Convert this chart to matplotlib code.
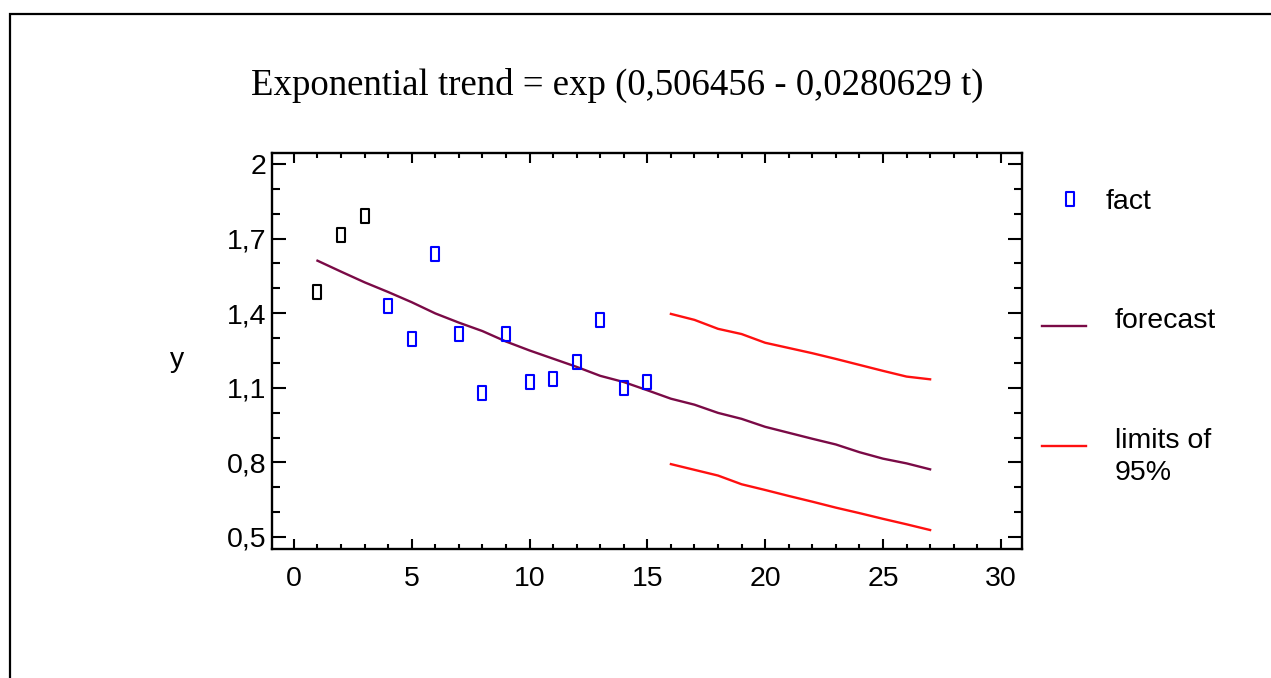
import matplotlib
matplotlib.use("Agg")
import matplotlib.pyplot as plt
from matplotlib.path import Path
from matplotlib.lines import Line2D
from matplotlib.patches import Rectangle
from matplotlib.ticker import MultipleLocator, FuncFormatter

# ---- data ----
t_fact = [1, 2, 3, 4, 5, 6, 7, 8, 9, 10, 11, 12, 13, 14, 15]
y_fact = [1.487, 1.714, 1.792, 1.430, 1.295, 1.637, 1.316, 1.078, 1.316,
          1.122, 1.134, 1.203, 1.373, 1.101, 1.122]
fact_colors = ["black"] * 3 + ["blue"] * 12

t_forecast = list(range(1, 28))
y_forecast = [1.611, 1.567, 1.524, 1.485, 1.444, 1.399, 1.362, 1.328, 1.286,
              1.250, 1.217, 1.184, 1.148, 1.123, 1.090, 1.056, 1.032, 0.999,
              0.975, 0.943, 0.919, 0.895, 0.872, 0.841, 0.815, 0.796, 0.772]

t_limits = list(range(16, 28))
y_upper = [1.397, 1.373, 1.337, 1.316, 1.281, 1.260, 1.239, 1.216, 1.192,
           1.168, 1.145, 1.134]
y_lower = [0.793, 0.770, 0.747, 0.712, 0.689, 0.665, 0.642, 0.618, 0.596,
           0.573, 0.551, 0.528]

title = "Exponential trend = exp (0,506456 - 0,0280629 t)"
legend_labels = ["fact", "forecast", "limits of\n95%"]
x_ticks = [0, 5, 10, 15, 20, 25, 30]
y_ticks = [0.5, 0.8, 1.1, 1.4, 1.7, 2.0]

FORECAST_COLOR = "#7a0a46"
LIMIT_COLOR = "#ff1010"
FS = 20.5

W, H = 1271, 678
fig = plt.figure(figsize=(W / 100, H / 100), dpi=100)
fig.patch.set_facecolor("white")

ax = fig.add_axes([272 / W, 1 - 549 / H, (1022 - 272) / W, (549 - 153) / H])

rect = Path([(-0.33, -0.5), (0.33, -0.5), (0.33, 0.5), (-0.33, 0.5), (-0.33, -0.5)],
            [Path.MOVETO, Path.LINETO, Path.LINETO, Path.LINETO, Path.CLOSEPOLY])

ax.plot(t_forecast, y_forecast, color=FORECAST_COLOR, lw=1.7, zorder=2)
ax.plot(t_limits, y_upper, color=LIMIT_COLOR, lw=1.7, zorder=2)
ax.plot(t_limits, y_lower, color=LIMIT_COLOR, lw=1.7, zorder=2)
for t, v, c in zip(t_fact, y_fact, fact_colors):
    ax.plot([t], [v], linestyle="none", marker=rect, markersize=9.5,
            markerfacecolor="none", markeredgecolor=c, markeredgewidth=1.5, zorder=3)

ax.set_xlim(-0.93, 30.9)
ax.set_ylim(0.4517, 2.044)
ax.set_xticks(x_ticks)
ax.set_yticks(y_ticks)
ax.xaxis.set_minor_locator(MultipleLocator(1))
ax.yaxis.set_minor_locator(MultipleLocator(0.1))

fmt = FuncFormatter(lambda v, p: f"{v:g}".replace(".", ","))
ax.xaxis.set_major_formatter(fmt)
ax.yaxis.set_major_formatter(fmt)

for s in ax.spines.values():
    s.set_linewidth(1.7)
ax.tick_params(axis="both", which="both", direction="in", top=True, right=True,
               width=1.5, labelsize=FS)
ax.tick_params(axis="y", which="major", length=10, pad=4)
ax.tick_params(axis="y", which="minor", length=6)
ax.tick_params(axis="x", which="major", length=7, pad=12.5)
ax.tick_params(axis="x", which="minor", length=3.5)
for lab in ax.get_xticklabels() + ax.get_yticklabels():
    lab.set_fontfamily("Liberation Sans")

fig.text(177 / W, 1 - 360 / H, "y", ha="center", va="center",
         fontsize=FS, family="Liberation Sans")

fig.text(617 / W, 1 - 85 / H, title, ha="center", va="center",
         fontsize=26.5, family="Liberation Serif")

# legend drawn at the right, outside the axes
fig.add_artist(Line2D([1070 / W], [1 - 199 / H], linestyle="none", marker=rect,
                      markersize=9.5, markerfacecolor="none", markeredgecolor="blue",
                      markeredgewidth=1.5))
fig.text(1106 / W, 1 - 202 / H, legend_labels[0], ha="left", va="center",
         fontsize=FS, family="Liberation Sans")
fig.add_artist(Line2D([1042 / W, 1086 / W], [1 - 326 / H, 1 - 326 / H],
                      color=FORECAST_COLOR, lw=1.7))
fig.text(1115 / W, 1 - 321 / H, legend_labels[1], ha="left", va="center",
         fontsize=FS, family="Liberation Sans")
fig.add_artist(Line2D([1042 / W, 1086 / W], [1 - 446 / H, 1 - 446 / H],
                      color=LIMIT_COLOR, lw=1.7))
fig.text(1115 / W, 1 - 457 / H, legend_labels[2], ha="left", va="center",
         fontsize=FS, family="Liberation Sans", linespacing=1.32)

# outer frame (continues beyond the right and bottom edges)
fig.add_artist(Rectangle((10 / W, -0.5), 2, (1 - 14 / H) + 0.5,
                         transform=fig.transFigure, fill=False,
                         edgecolor="black", lw=1.6))

fig.savefig("out.png", dpi=100)
